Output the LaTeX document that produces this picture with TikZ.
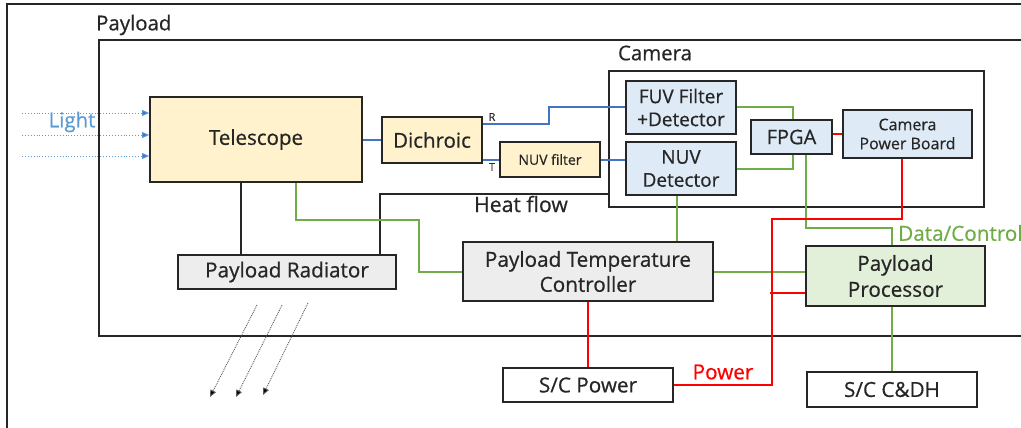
\documentclass[tikz,border=0pt]{standalone}
\usepackage{fontspec}
\setmainfont{Open Sans}[UprightFeatures={FakeBold=0.6}]
\usetikzlibrary{arrows.meta,calc}
\definecolor{yel}{HTML}{FFF2CC}
\definecolor{lblue}{HTML}{DEEBF7}
\definecolor{lgray}{HTML}{EDEDED}
\definecolor{lgreen}{HTML}{E2F0D9}
\definecolor{gline}{HTML}{70AD47}
\definecolor{bline}{HTML}{4472C4}
\definecolor{ltxt}{HTML}{5B9BD5}
\definecolor{rline}{HTML}{FF0000}
\definecolor{edge}{HTML}{262626}
\begin{document}
\begin{tikzpicture}[x=1pt,y=-1pt,
  box/.style={draw=edge, line width=1.8pt, inner sep=0pt, align=center, text=edge, font=\fontsize{20.7}{25}\selectfont},
  bigbox/.style={box, font=\fontsize{20.5}{24}\selectfont},
  smallbox/.style={box, font=\fontsize{16}{19}\selectfont},
  midbox/.style={box, font=\fontsize{19}{23}\selectfont},
  frame/.style={draw=edge, line width=2pt},
  bl/.style={draw=bline, line width=2pt},
  gl/.style={draw=gline, line width=2pt},
  rl/.style={draw=rline, line width=2pt},
  kl/.style={draw=edge, line width=2pt},
  lightarrow/.style={draw=ltxt, dotted, line width=0.9pt, -{Triangle[length=7pt,width=6pt,fill=bline]}},
  heatarrow/.style={draw=black!65, densely dotted, line width=0.9pt, -{Triangle[length=7pt,width=6pt,fill=black]}},
  lbl/.style={font=\fontsize{20.7}{24}\selectfont, inner sep=0pt, text=edge}
]
\useasboundingbox (0,0) rectangle (1021,428);
% outer frames
\draw[frame] (7,430) -- (7,4) -- (1025,4);
\draw[frame] (1025,40) -- (99,40) -- (99,336) -- (1025,336);
\node[lbl, font=\fontsize{20.4}{24}\selectfont, anchor=west] (plabel) at (96,25) {Payload};

% camera
\node[draw=edge, line width=1.8pt, minimum width=375pt, minimum height=136pt, inner sep=0pt] (cam) at (796.5,139) {};
\node[lbl, font=\fontsize{20.4}{24}\selectfont] (camlabel) at (655,53) {Camera};

% boxes
\node[bigbox, fill=yel, minimum width=212pt, minimum height=85pt] (tel) at (256,139.5) {Telescope};
\node[bigbox, fill=yel, minimum width=100pt, minimum height=46pt] (dich) at (432,140) {Dichroic};
\node[box, fill=yel, minimum width=100pt, minimum height=35pt, font=\fontsize{14}{16}\selectfont] (nuvf) at (550,159.5) {NUV filter};
\node[midbox, fill=lblue, minimum width=110pt, minimum height=53pt] (fuv) at (681,107.5) {FUV Filter\\+Detector};
\node[midbox, fill=lblue, minimum width=110pt, minimum height=53pt] (nuvd) at (681,168.5) {NUV\\Detector};
\node[box, fill=lblue, minimum width=81pt, minimum height=34pt, font=\fontsize{20}{24}\selectfont] (fpga) at (791.5,137) {FPGA};
\node[smallbox, fill=lblue, minimum width=129pt, minimum height=48pt] (cpb) at (907.5,134) {Camera\\Power Board};
\node[box, fill=lgray, minimum width=218pt, minimum height=34pt] (rad) at (287,272) {Payload Radiator};
\node[box, fill=lgray, minimum width=250pt, minimum height=59pt] (ptc) at (588,271.5) {Payload Temperature\\Controller};
\node[box, fill=lgreen, minimum width=179pt, minimum height=60pt, font=\fontsize{20.7}{26}\selectfont] (pp) at (895.5,276) {Payload\\Processor};
\node[box, fill=white, minimum width=170pt, minimum height=34pt] (scp) at (588,385) {S/C Power};
\node[box, fill=white, minimum width=170pt, minimum height=35pt] (cdh) at (892,389.5) {S/C C\&DH};

% light arrows
\node[lbl, text=ltxt, font=\fontsize{20.4}{24}\selectfont] (light) at (72,122) {Light};
\coordinate (l1) at (22,113);
\coordinate (l2) at (22,135);
\coordinate (l3) at (22,156);
\foreach \c in {l1,l2,l3} \draw[lightarrow] (\c) -- (\c -| tel.west);

% blue optical path
\draw[bl] (tel.east) -- (tel.east -| dich.west);
\draw[bl] ([yshift=16pt]dich.east) -- ++(66,0) |- (fuv.west);
\draw[bl] (dich.east |- nuvf.west) -- (nuvf.west);
\draw[bl] (nuvf.east) -- (nuvf.east -| nuvd.west);
\node[font=\fontsize{11}{13}\selectfont, inner sep=0pt, text=edge] (rlab) at (492,117) {R};
\node[font=\fontsize{11}{13}\selectfont, inner sep=0pt, text=edge] (tlab) at (492,167) {T};

% black thermal links
\coordinate (tb) at ([xshift=-15pt]tel.south);
\draw[kl] (tb) -- (tb |- rad.north);
\draw[kl] ([xshift=93pt]rad.north) |- ([yshift=-55pt]cam.west);
\node[lbl, font=\fontsize{21.2}{24}\selectfont] (heat) at (521,204) {Heat flow};

% green data/control
\draw[gl] ([xshift=40pt]tel.south) -- ++(0,37) -- ++(123,0) |- (ptc.west);
\coordinate (nb) at ([xshift=-4pt]nuvd.south);
\draw[gl] (nb) -- (nb |- ptc.north);
\draw[gl] (ptc.east) -- (ptc.east -| pp.west);
\draw[gl] (fuv.east) -| ([xshift=1.5pt]fpga.north);
\draw[gl] (nuvd.east) -| ([xshift=1.5pt]fpga.south);
\draw[gl] ([xshift=14.5pt]fpga.south) -- ++(0,73) -| ([xshift=-3.5pt]pp.north);
\coordinate (pb) at ([xshift=-3.5pt]pp.south);
\draw[gl] (pb) -- (pb |- cdh.north);
\node[lbl, text=gline, anchor=west] (dc) at (898,233) {Data/Control};

% red power
\draw[rl] (cpb.west -| fpga.east) -- (cpb.west);
\draw[rl] (ptc.south) -- (scp.north);
\draw[rl] (scp.east) -| ++(98,-166) -| ([xshift=-5.5pt]cpb.south);
\draw[rl] ([yshift=-17pt]pp.west) -- ++(-35,0);
\node[lbl, text=rline] (pw) at (723,372) {Power};

% radiated heat arrows
\coordinate (h1) at (257,305);
\coordinate (h2) at (282,305);
\coordinate (h3) at (308,303);
\coordinate (e1) at (210,397);
\coordinate (e2) at (236,397);
\coordinate (e3) at (263,395);
\draw[heatarrow] (h1) -- (e1);
\draw[heatarrow] (h2) -- (e2);
\draw[heatarrow] (h3) -- (e3);
\end{tikzpicture}
\end{document}
